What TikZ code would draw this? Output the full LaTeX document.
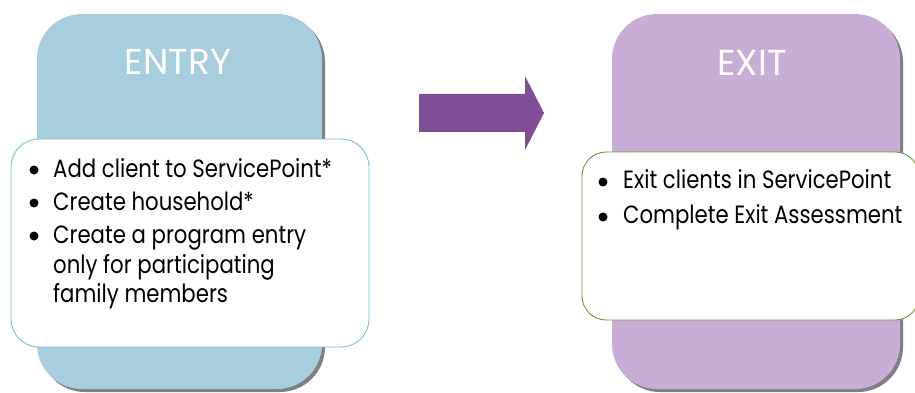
\documentclass[tikz,border=0pt]{standalone}
\usepackage{fontspec}
\setmainfont{Poppins}
\newfontfamily\bodyfont[FakeStretch=0.85]{Poppins}
\definecolor{entryfill}{RGB}{166,206,222}
\definecolor{exitfill}{RGB}{200,174,214}
\definecolor{shadowgray}{RGB}{128,128,128}
\definecolor{entryline}{RGB}{120,190,210}
\definecolor{exitline}{RGB}{118,146,60}
\definecolor{arrowfill}{RGB}{126,79,150}
\begin{document}
\begin{tikzpicture}[x=1pt,y=-1pt,
  bigbox/.style={rounded corners=45pt},
  shadowbox/.style={fill=shadowgray, rounded corners=45pt},
  panel/.style={fill=white, rounded corners=28pt, line width=0.9pt},
  title/.style={text=white, font=\fontsize{36}{42}\selectfont, anchor=base, inner sep=0pt},
  itemtext/.style={font=\bodyfont\fontsize{25}{30}\selectfont, anchor=base west, inner sep=0pt, text=black},
  dot/.style={fill=black, circle, inner sep=0pt, minimum size=9pt}
]
\useasboundingbox (0,0) rectangle (915,393);
\clip (0,0) rectangle (915,393);
% ENTRY
\fill[shadowbox] (40,17) rectangle (325,392);
\fill[bigbox, fill=entryfill] (37,14) rectangle (322,389);
\node[title] (entrytitle) at (178,75) {ENTRY};
\draw[panel, draw=entryline] (11,139) rectangle (369,347);
\node[dot] (b1) at (34,170) {};
\node[itemtext] (e1) at (53,177) {Add client to ServicePoint*};
\node[dot] (b2) at (34,203) {};
\node[itemtext] (e2) at (53,210) {Create household*};
\node[dot] (b3) at (34,236) {};
\node[itemtext] (e3) at (53,243) {Create a program entry};
\node[itemtext] (e4) at (53,273) {only for participating};
\node[itemtext] (e5) at (53,302) {family members};
% arrow
\fill[arrowfill] (419,94) -- (525,94) -- (525,76) -- (544,113) -- (525,150) -- (525,132) -- (419,132) -- cycle;
% EXIT
\fill[shadowbox] (615,17) rectangle (903,392);
\fill[bigbox, fill=exitfill] (612,14) rectangle (900,389);
\node[title] (exittitle) at (752,76) {EXIT};
\draw[panel, draw=exitline, rounded corners=24pt] (582,152) rectangle (919,320);
\node[dot] (c1) at (603,182) {};
\node[itemtext] (x1) at (623,188) {Exit clients in ServicePoint};
\node[dot] (c2) at (603,217) {};
\node[itemtext] (x2) at (623,223) {Complete Exit Assessment};
\end{tikzpicture}
\end{document}
